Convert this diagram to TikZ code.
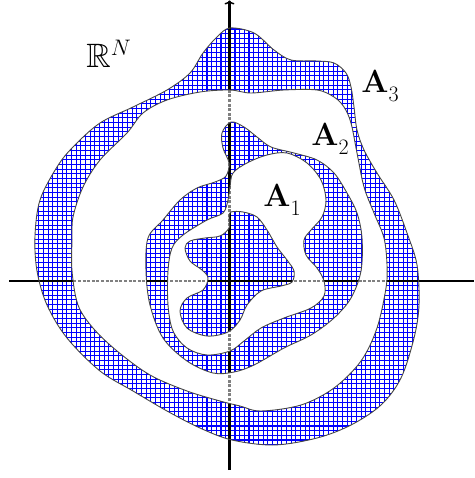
\documentclass[tikz,border=0pt]{standalone}
\usepackage{amssymb}
\usepackage{fontspec}
\usetikzlibrary{arrows.meta}
\newcommand\COut{plot coordinates{(230,28) (254,33) (274,50) (291,60) (317,61) (334,63) (346,73) (351,87) (354,107) (357,130) (364,150) (377,173) (394,200) (407,233) (417,265) (419,305) (414,338) (401,378) (381,405) (351,425) (317,438) (274,445) (232,440) (200,428) (167,411) (133,391) (100,371) (67,338) (47,305) (37,271) (35,236) (40,200) (57,167) (73,147) (100,123) (133,107) (167,90) (190,73) (203,53) (217,37)}}
\newcommand\CIn{plot coordinates{(230,90) (200,92) (167,100) (143,113) (127,133) (100,160) (83,187) (73,217) (72,240) (72,271) (78,305) (93,328) (117,351) (150,375) (187,391) (220,401) (240,406) (261,411) (301,405) (334,388) (361,361) (377,328) (386,288) (387,265) (384,238) (374,213) (364,187) (357,153) (351,123) (344,107) (334,97) (317,90) (284,90) (251,93)}}
\newcommand\BOut{plot coordinates{(231,122) (244,127) (257,137) (271,147) (294,153) (317,160) (334,173) (347,193) (357,213) (362,238) (361,271) (351,298) (334,318) (311,335) (284,348) (254,365) (234,372) (213,373) (187,361) (163,338) (150,305) (146,271) (148,238) (163,220) (180,200) (197,188) (215,182) (226,176) (229,163) (223,148) (222,133)}}
\newcommand\BIn{plot coordinates{(233,173) (247,163) (267,155) (287,153) (307,163) (321,180) (326,200) (322,217) (311,230) (304,240) (306,255) (317,268) (324,281) (324,296) (311,308) (284,318) (261,328) (244,341) (230,351) (207,355) (187,348) (173,331) (168,305) (168,271) (172,248) (183,235) (207,220) (223,213) (228,200) (230,187)}}
\newcommand\AOne{plot coordinates{(231,212) (243,212) (257,217) (267,230) (277,247) (287,260) (294,271) (292,282) (281,286) (261,291) (247,305) (240,320) (228,332) (207,336) (187,328) (180,311) (187,298) (203,290) (208,278) (202,270) (190,261) (185,248) (190,241) (205,238) (220,236) (229,228) (229,217)}}
\newcommand\Lab[2]{\textbf{#1}\raisebox{-0.28em}{\fontsize{22}{24}\selectfont #2}}
\tikzset{
  every plot/.style={smooth cycle, tension=0.55},
  gridline/.style={blue, line width=1.05pt},
  border/.style={gray!55!black, line width=0.9pt},
  axisline/.style={black, line width=2.8pt},
  axisdash/.style={gray, line width=2.4pt, dash pattern=on 3pt off 1.6pt},
  lbl/.style={font=\fontsize{32}{34}\selectfont, inner sep=0pt}
}
\begin{document}
\begin{tikzpicture}[x=1pt,y=-1pt]
\useasboundingbox (0,0) rectangle (474,478);
\fill[white] (0,0) rectangle (474,478);
% hatched regions
\begin{scope}[even odd rule]
\clip \COut \CIn \BOut \BIn \AOne;
\foreach \i in {0,...,101} {\draw[gridline] (\i*4.67+1.5,0) -- (\i*4.67+1.5,478);}
\foreach \i in {0,...,102} {\draw[gridline] (0,\i*4.67+1) -- (474,\i*4.67+1);}
\end{scope}
% axes
\coordinate (xl) at (9,281);
\coordinate (xr) at (474,281);
\coordinate (yb) at (229.5,470);
\coordinate (yt) at (229.5,0.5);
\draw[axisline] (xl) -- (xr);
\draw[axisline,-{To[length=4pt,width=10pt,line width=1.5pt]}] (yb) -- (yt);
% dashed axes in white regions
\begin{scope}[even odd rule]
\clip \CIn \BOut \BIn \AOne;
\draw[white, line width=3.6pt] (xl) -- (xr);
\draw[white, line width=3.6pt] (yb) -- (yt);
\draw[axisdash] (xl) -- (xr);
\draw[axisdash] (yb) -- (yt);
\end{scope}
% borders
\draw[border] \COut;
\draw[border] \CIn;
\draw[border] \BOut;
\draw[border] \BIn;
\draw[border] \AOne;
% labels
\node[lbl] (rn) at (109,54) {\scalebox{1.3}{\fontsize{26}{28}\selectfont$\mathbb{R}^N$}};
\node[lbl] (a3) at (380,86) {\Lab{A}{3}};
\node[lbl] (a2) at (330,139) {\Lab{A}{2}};
\node[lbl] (a1) at (282,200) {\Lab{A}{1}};
\end{tikzpicture}
\end{document}
